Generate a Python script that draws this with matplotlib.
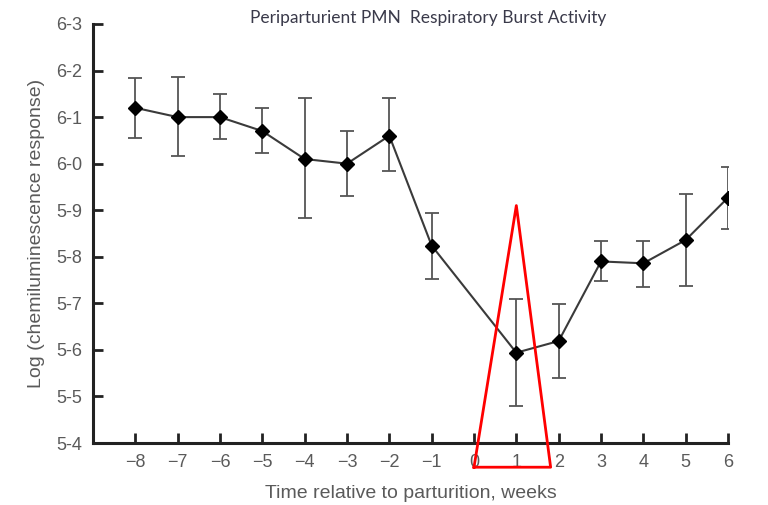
import matplotlib.pyplot as plt

weeks = [-8, -7, -6, -5, -4, -3, -2, -1, 1, 2, 3, 4, 5, 6]
response = [6.12, 6.10, 6.10, 6.07, 6.01, 6.00, 6.06, 5.824, 5.594, 5.619, 5.79, 5.786, 5.836, 5.927]
err_upper = [6.184, 6.186, 6.15, 6.12, 6.14, 6.07, 6.14, 5.894, 5.709, 5.699, 5.834, 5.834, 5.935, 5.993]
err_lower = [6.055, 6.016, 6.053, 6.023, 5.883, 5.93, 5.985, 5.752, 5.479, 5.54, 5.748, 5.735, 5.737, 5.86]

x_ticks = list(range(-8, 7))
x_tick_labels = [str(t).replace('-', '\u2212') for t in x_ticks]
y_ticks = [5.4, 5.5, 5.6, 5.7, 5.8, 5.9, 6.0, 6.1, 6.2, 6.3]
y_tick_labels = [f'{t:.1f}'.replace('.', '-') for t in y_ticks]

# red highlight triangle around week 1
tri_x = [0.0, 1.81, 1.0, 0.0]
tri_y = [5.348, 5.348, 5.91, 5.348]

TEXT_GREY = '#5a5a5a'

fig = plt.figure(figsize=(7.68, 5.05), dpi=100)
ax = fig.add_axes([93 / 768, 62 / 505, 635 / 768, 419 / 505])

yerr = [[r - lo for r, lo in zip(response, err_lower)],
        [hi - r for r, hi in zip(response, err_upper)]]
ax.errorbar(weeks, response, yerr=yerr, fmt='none', ecolor='#555555',
            elinewidth=1.3, capsize=5, capthick=1.3, zorder=2)
ax.plot(weeks, response, color='#3a3a3a', linewidth=1.5, marker='D',
        markersize=7, markerfacecolor='black', markeredgecolor='black', zorder=3)

ax.plot(tri_x, tri_y, color='red', linewidth=2, clip_on=False, zorder=4)

ax.set_xlim(-9, 6)
ax.set_ylim(5.4, 6.3)
ax.set_xticks(x_ticks)
ax.set_xticklabels(x_tick_labels, family='Liberation Sans')
ax.set_yticks(y_ticks)
ax.set_yticklabels(y_tick_labels, family='Liberation Sans')

for side in ['top', 'right']:
    ax.spines[side].set_visible(False)
for side in ['left', 'bottom']:
    ax.spines[side].set_linewidth(2.2)
    ax.spines[side].set_color('#222222')

ax.tick_params(direction='in', length=7, width=2, color='#222222',
               labelsize=13, labelcolor=TEXT_GREY, pad=8)

ax.set_xlabel('Time relative to parturition, weeks', fontsize=14,
              color=TEXT_GREY, family='Liberation Sans', labelpad=10)
ax.set_ylabel('Log (chemiluminescence response)', fontsize=14,
              color=TEXT_GREY, family='Liberation Sans', labelpad=8)

fig.text(428 / 768, 1 - 18 / 505, 'Periparturient PMN  Respiratory Burst Activity',
         ha='center', va='center', fontsize=12.5, color='#3a3a4a', family='Lato')

fig.savefig('out.png', dpi=100)
